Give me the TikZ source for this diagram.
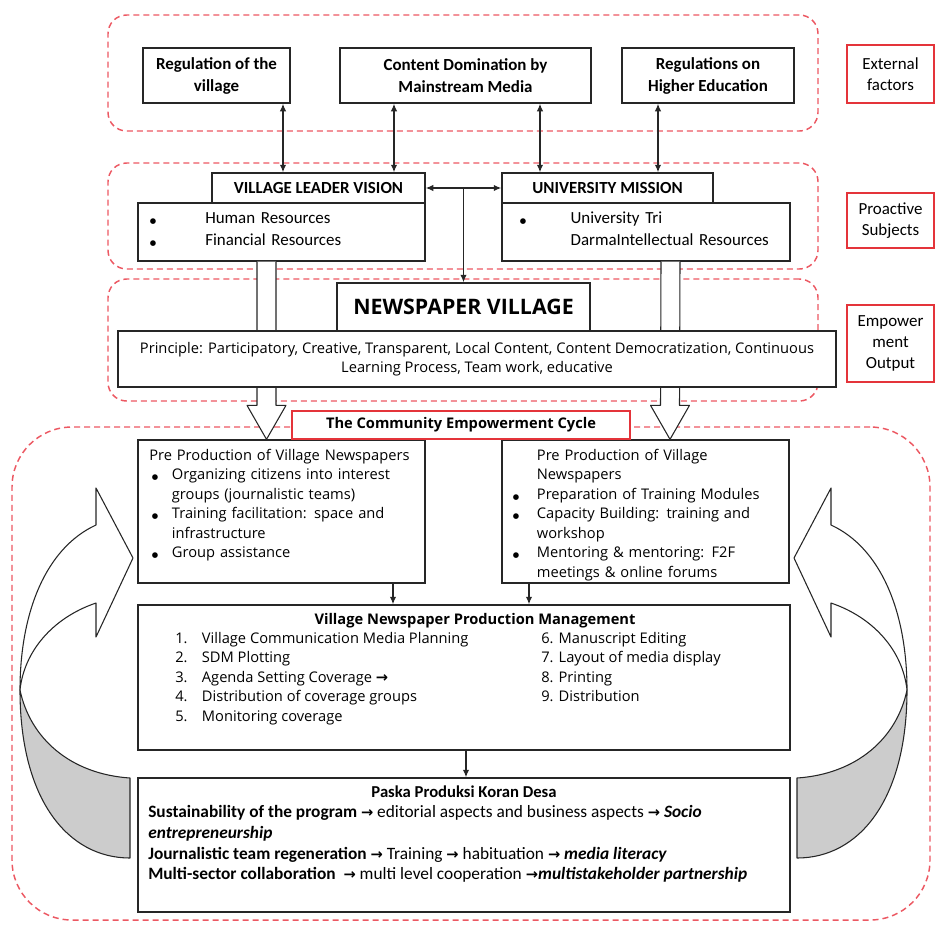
\documentclass[tikz,border=0pt]{standalone}
\usepackage{fontspec}
\setmainfont{Carlito}
\newfontfamily\opensans{Open Sans}
\newfontfamily\dejavu{DejaVu Sans}
\usetikzlibrary{positioning,arrows.meta,calc,fit}
\definecolor{cLine} {RGB}{ 38, 38, 38}
\definecolor{cDash} {RGB}{236, 88, 98}
\definecolor{cTag}  {RGB}{228, 52, 58}
\definecolor{cShade}{RGB}{204,204,204}
\newcommand{\topfont}{\fontsize{12.7}{16.5}\selectfont\bfseries}
\newcommand{\hdfont}{\fontsize{12.7}{14}\selectfont\bfseries}
\newcommand{\bdfont}{\fontsize{12.7}{16.5}\selectfont}
\newcommand{\osfont}{\opensans\fontsize{11}{14.6}\selectfont}
\newcommand{\nvfont}{\opensans\bfseries\fontsize{16}{18}\selectfont}
\newcommand{\tagfont}{\fontsize{12.7}{16}\selectfont}
\newcommand{\pkfont}{\fontsize{13}{15.6}\selectfont}
\newcommand{\ra}{{\dejavu\bfseries\fontsize{11}{11}\selectfont →}}
\newcommand{\bulletdot}{{\dejavu\fontsize{5.5}{5.5}\selectfont ●}}
\newcommand{\bul}[2]{\par\noindent\hangindent=#1\hangafter=1%
  \makebox[#1][l]{\hspace{2pt}\bulletdot}#2\par}
\tikzset{
  sz/.style 2 args = {minimum width=#1*0.75pt, minimum height=#2*0.75pt},
  zone/.style  = {draw=cDash, line width=1.1pt, dash pattern=on 4.5pt off 3pt,
                  rounded corners=14pt, inner sep=0pt},
  tag/.style   = {draw=cTag, line width=1pt, fill=white, inner sep=0pt,
                  align=center, font=\tagfont},
  box/.style   = {draw=cLine, line width=1pt, fill=white, inner sep=0pt,
                  align=center},
  head/.style  = {box, font=\hdfont},
  txt/.style   = {inner sep=0pt, anchor=north west, align=left},
  link/.style  = {-{Latex[length=2mm,width=1.7mm]}, cLine, line width=1pt},
  both/.style  = {{Latex[length=2mm,width=1.7mm]}-{Latex[length=2mm,width=1.7mm]},
                  cLine, line width=1pt},
  fat/.style   = {draw=cLine, line width=0.8pt, fill=white, line join=round},
  shade/.style = {draw=cLine, line width=0.8pt, fill=cShade, line join=round},
}

\begin{document}
\begin{tikzpicture}[x=0.75pt, y=-0.75pt]
  \useasboundingbox (0,0) rectangle (942,926);

  % ---- dashed zones ------------------------------------------------
  \node[zone, sz={710}{116}] (zExt) at (463,73) {};
  \node[zone, sz={710}{106}] (zPro) at (463,216) {};
  \node[zone, sz={710}{122}] (zEmp) at (463,340) {};
  \node[zone, sz={918}{493}, rounded corners=45pt] (zCyc) at (471,673.5) {};

  \node[tag, sz={87}{58}] (tExt) at (890.5,74)    {External\\factors};
  \node[tag, sz={87}{55}] (tPro) at (890.5,220.5) {Proactive\\Subjects};
  \node[tag, sz={87}{77}] (tEmp) at (890.5,343.5) {Empower\\ment\\Output};

  % ---- external factors -------------------------------------------
  \node[box, sz={147}{55}, font=\topfont] (reg) at (216.5,75.5) {Regulation of the\\village};
  \node[box, sz={251}{55}, font=\topfont] (dom) at (465.5,75.5) {Content Domination by\\Mainstream Media};
  \node[box, sz={172}{55}, font=\topfont] (hed) at (708,75.5)   {Regulations on\\Higher Education};

  % ---- proactive subjects -----------------------------------------
  \node[box, sz={287}{58}] (vlvB) at (281.5,232) {};
  \node[head, sz={213}{30}] (vlvH) at (318.5,188) {VILLAGE LEADER VISION};
  \node[box, sz={288}{58}] (umB) at (646,232) {};
  \node[head, sz={211}{30}] (umH) at (607.5,188) {UNIVERSITY MISSION};
  \node[txt, font=\bdfont, text width=200pt] (vlvT) at (147,201)
    {\bul{43.5pt}{Human Resources}\bul{43.5pt}{Financial Resources}};
  \node[txt, font=\bdfont, text width=205pt] (umT) at (517,201)
    {\bul{40pt}{University Tri\newline DarmaIntellectual Resources}};

  % ---- pre production ---------------------------------------------
  \node[box, sz={287}{143}] (ppL) at (281.5,511.5) {};
  \node[box, sz={287}{143}] (ppR) at (645.5,511.5) {};
  \node[txt, font=\osfont, text width=212pt] (ppLT) at (149,449)
    {Pre Production of Village Newspapers
     \bul{17pt}{Organizing citizens into interest\newline groups (journalistic teams)}
     \bul{17pt}{Training facilitation: space and\newline infrastructure}
     \bul{17pt}{Group assistance}};
  \node[txt, font=\osfont, text width=208pt] (ppRT) at (510,449)
    {\hangindent=20pt\hangafter=0 Pre Production of Village\newline Newspapers
     \bul{20pt}{Preparation of Training Modules}
     \bul{20pt}{Capacity Building: training and\newline workshop}
     \bul{20pt}{Mentoring \& mentoring: F2F\newline meetings \& online forums}};

  % ---- hollow arrows into the cycle -------------------------------
  \foreach \a/\b/\dx in {vlvB/ppL/-15, umB/ppR/24.5}
    \draw[fat] ($(\a.south)+(\dx-9.5,0)$) -- ($(\b.north)+(\dx-9.5,-34)$)
      -- ++(-10,0) -- ($(\b.north)+(\dx,0)$) -- ($(\b.north)+(\dx+19.5,-34)$)
      -- ++(-10,0) -- ($(\a.south)+(\dx+9.5,0)$);

  % ---- empowerment output -----------------------------------------
  \node[box, sz={253}{48}, font=\nvfont] (nv) at (463.5,307) {NEWSPAPER VILLAGE};
  \node[box, sz={718}{56}, font=\osfont] (pri) at (477,359)
    {Principle: Participatory, Creative, Transparent, Local Content, Content Democratization, Continuous\\
     Learning Process, Team work, educative};
  \node[tag, sz={338}{28}, font=\opensans\bfseries\fontsize{11}{12}\selectfont]
    (tCyc) at (461,425) {The Community Empowerment Cycle};

  % ---- production ---------------------------------------------------
  \node[box, sz={652}{145}] (mg) at (464,677.5) {};
  \node[font=\osfont\bfseries, inner sep=0pt] (mgT) at (475,621)
    {Village Newspaper Production Management};
  \node[txt, font=\osfont] (mgL) at (175,632)
    {\makebox[20pt][l]{1.}Village Communication Media Planning\\
     \makebox[20pt][l]{2.}SDM Plotting\\
     \makebox[20pt][l]{3.}Agenda Setting Coverage\ \ra\\
     \makebox[20pt][l]{4.}Distribution of coverage groups\\
     \makebox[20pt][l]{5.}Monitoring coverage};
  \node[txt, font=\osfont] (mgR) at (541,632)
    {6. Manuscript Editing\\7. Layout of media display\\8. Printing\\9. Distribution};

  \node[box, sz={652}{134}] (pk) at (464,845) {};
  \node[font=\fontsize{12.5}{14}\selectfont\bfseries, inner sep=0pt] (pkT) at (464,792)
    {Paska Produksi Koran Desa};
  \node[txt, font=\pkfont] (pkL) at (148,805)
    {\textbf{Sustainability of the program} \ra{} editorial aspects and business aspects \ra{} \textbf{\textit{Socio}}\\
     \textbf{\textit{entrepreneurship}}\\
     \textbf{Journalistic team regeneration} \ra{} Training \ra{} habituation \ra{} \textbf{\textit{media literacy}}\\
     \textbf{Multi-sector collaboration}\ \ \ra{} multi level cooperation \ra\textbf{\textit{multistakeholder partnership}}};

  % ---- connectors ---------------------------------------------------
  \foreach \x/\a/\b in {283/reg/vlvH, 394/dom/vlvH, 540/dom/umH, 658/hed/umH} {
    \coordinate (c) at (\x,0);
    \draw[both] (\a.south -| c) -- (\b.north -| c);
  }
  \draw[both] (vlvH) -- (umH);
  \draw[link] ($(vlvH.east)!0.5!(umH.west)$) -- (nv);
  \foreach \x/\a/\b in {393/ppL/mg, 529/ppR/mg, 466/mg/pk} {
    \coordinate (c) at (\x,0);
    \draw[link] (\a.south -| c) -- (\b.north -| c);
  }

  % ---- cycle arrows, left and mirrored right ------------------------
  \foreach \s/\o in {1/0, -1/927} {
    \begin{scope}[shift={(\o,0)}, xscale=\s]
      \draw[fat] (96,525) .. controls (46,548) and (20,612) .. (20,690)
        .. controls (24,652) and (52,618) .. (96,603)
        -- (96,637) -- (133,558) -- (96,488) -- cycle;
      \draw[shade] (20,690) .. controls (20,800) and (68,858) .. (130,858)
        -- (130,778) .. controls (70,774) and (30,738) .. (20,690) -- cycle;
    \end{scope}
  }

\end{tikzpicture}
\end{document}
